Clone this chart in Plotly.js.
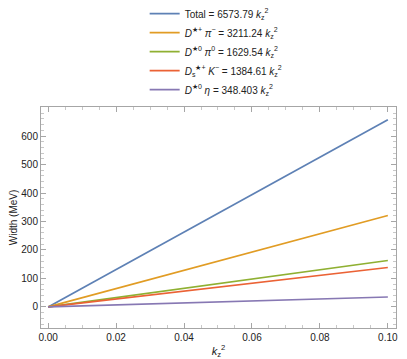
<!DOCTYPE html>
<html>
<head>
<meta charset="utf-8">
<script src="https://cdn.plot.ly/plotly-3.0.1.min.js"></script>
<style>
  html, body { margin: 0; padding: 0; background: #fff; }
  #myPlot { width: 407px; height: 359px; }
</style>
</head>
<body>
<div id="myPlot"></div>
<script>
// k_z^2 range of the plot
var kz2 = [0, 0.1];

// widths (MeV) at each end of the range
var total   = [0, 657.4];
var dstarpi = [0, 321.1];
var dstar0pi0 = [0, 163.0];
var dsK     = [0, 138.5];
var dstar0eta = [0, 34.8];

var names = [
  "Total = 6573.79 <i>k</i><sub>z</sub><sup>2</sup>",
  "<i>D</i><sup>★+</sup> <i>π</i><sup>−</sup> = 3211.24 <i>k</i><sub>z</sub><sup>2</sup>",
  "<i>D</i><sup>★0</sup> <i>π</i><sup>0</sup> = 1629.54 <i>k</i><sub>z</sub><sup>2</sup>",
  "<i>D</i><sub>s</sub><sup>★+</sup> <i>K</i><sup>−</sup> = 1384.61 <i>k</i><sub>z</sub><sup>2</sup>",
  "<i>D</i><sup>★0</sup> <i>η</i> = 348.403 <i>k</i><sub>z</sub><sup>2</sup>"
];
var colors = ["#5E81B5", "#E19C24", "#8FB032", "#EB6235", "#8778B3"];
var series = [total, dstarpi, dstar0pi0, dsK, dstar0eta];

var data = [];
for (var i = 0; i < series.length; i++) {
  data.push({
    x: kz2,
    y: series[i],
    mode: "lines",
    name: names[i],
    legendgroup: "g" + i,
    line: {color: colors[i], width: 1.7}
  });
}

var axisStyle = {
  showline: true,
  linecolor: "#a6a6a6",
  linewidth: 1,
  mirror: "allticks",
  ticks: "inside",
  ticklen: 5,
  tickcolor: "#a6a6a6",
  showgrid: false,
  zeroline: false,
  tickfont: {family: "Liberation Sans, Arial", size: 10, color: "#222"}
};

var layout = {
  width: 407,
  height: 359,
  margin: {l: 41, r: 11, t: 107, b: 31, autoexpand: false},
  paper_bgcolor: "#fff",
  plot_bgcolor: "#fff",
  showlegend: true,
  legend: {
    x: 0.292, y: 1.488, xanchor: "left", yanchor: "top",
    font: {family: "Liberation Sans, Arial", size: 10, color: "#222"},
    tracegroupgap: 0,
    bgcolor: "rgba(0,0,0,0)"
  },
  xaxis: Object.assign({}, axisStyle, {
    range: [-0.0021, 0.1024],
    tickvals: [0, 0.02, 0.04, 0.06, 0.08, 0.1],
    ticktext: ["0.00", "0.02", "0.04", "0.06", "0.08", "0.10"],
    minor: {dtick: 0.005, tick0: 0, ticks: "inside", ticklen: 3, tickcolor: "#c8c8c8"},
    title: {text: "<i>k</i><sub>z</sub><sup>2</sup>", standoff: 8,
            font: {family: "Liberation Sans, Arial", size: 11, color: "#222"}}
  }),
  yaxis: Object.assign({}, axisStyle, {
    range: [-74, 702],
    tickvals: [0, 100, 200, 300, 400, 500, 600],
    minor: {dtick: 20, tick0: 0, ticks: "inside", ticklen: 3, tickcolor: "#c8c8c8"},
    title: {text: "Width (MeV)", standoff: 1,
            font: {family: "Liberation Sans, Arial", size: 10, color: "#222"}}
  })
};

Plotly.newPlot("myPlot", data, layout, {displayModeBar: false, staticPlot: true});
</script>
</body>
</html>
